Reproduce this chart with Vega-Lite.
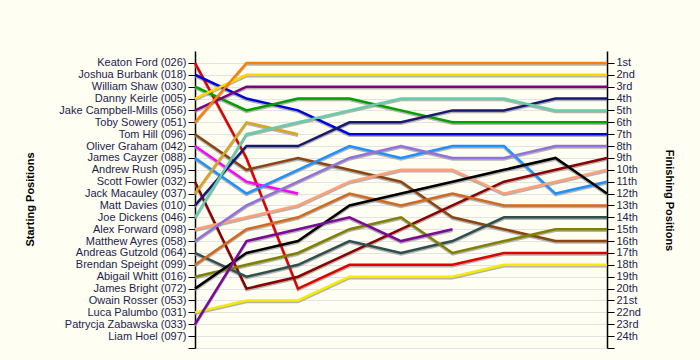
{
  "$schema": "https://vega.github.io/schema/vega-lite/v6.json",
  "width": 412,
  "height": 297,
  "autosize": {"type": "none"},
  "padding": {"left": 195, "top": 51, "right": 93, "bottom": 12},
  "background": "#FEFEF3",
  "config": {
    "view": {"stroke": null, "fill": "#FEFEF3"},
    "font": "Liberation Sans",
    "axis": {
      "labelFont": "Liberation Sans",
      "labelFontSize": 11,
      "labelColor": "#1C1C50",
      "titleFont": "Liberation Sans",
      "titleFontSize": 11,
      "titleFontWeight": "bold",
      "titleColor": "#000000",
      "domainColor": "#000000",
      "domainWidth": 1.5,
      "tickColor": "#000000",
      "gridColor": "#E3E3E3",
      "gridWidth": 1
    }
  },
  "datasets": {
    "laps": [
      {"d":"Keaton Ford (026)","l":0,"p":1},{"d":"Keaton Ford (026)","l":1,"p":9},{"d":"Keaton Ford (026)","l":2,"p":20},{"d":"Keaton Ford (026)","l":3,"p":18},{"d":"Keaton Ford (026)","l":4,"p":18},{"d":"Keaton Ford (026)","l":5,"p":18},{"d":"Keaton Ford (026)","l":6,"p":17},{"d":"Keaton Ford (026)","l":7,"p":17},{"d":"Keaton Ford (026)","l":8,"p":17},
      {"d":"Joshua Burbank (018)","l":0,"p":2},{"d":"Joshua Burbank (018)","l":1,"p":4},{"d":"Joshua Burbank (018)","l":2,"p":5},{"d":"Joshua Burbank (018)","l":3,"p":7},{"d":"Joshua Burbank (018)","l":4,"p":7},{"d":"Joshua Burbank (018)","l":5,"p":7},{"d":"Joshua Burbank (018)","l":6,"p":7},{"d":"Joshua Burbank (018)","l":7,"p":7},{"d":"Joshua Burbank (018)","l":8,"p":7},
      {"d":"William Shaw (030)","l":0,"p":3},{"d":"William Shaw (030)","l":1,"p":5},{"d":"William Shaw (030)","l":2,"p":4},{"d":"William Shaw (030)","l":3,"p":4},{"d":"William Shaw (030)","l":4,"p":5},{"d":"William Shaw (030)","l":5,"p":6},{"d":"William Shaw (030)","l":6,"p":6},{"d":"William Shaw (030)","l":7,"p":6},{"d":"William Shaw (030)","l":8,"p":6},
      {"d":"Danny Keirle (005)","l":0,"p":4},{"d":"Danny Keirle (005)","l":1,"p":2},{"d":"Danny Keirle (005)","l":2,"p":2},{"d":"Danny Keirle (005)","l":3,"p":2},{"d":"Danny Keirle (005)","l":4,"p":2},{"d":"Danny Keirle (005)","l":5,"p":2},{"d":"Danny Keirle (005)","l":6,"p":2},{"d":"Danny Keirle (005)","l":7,"p":2},{"d":"Danny Keirle (005)","l":8,"p":2},
      {"d":"Jake Campbell-Mills (056)","l":0,"p":5},{"d":"Jake Campbell-Mills (056)","l":1,"p":3},{"d":"Jake Campbell-Mills (056)","l":2,"p":3},{"d":"Jake Campbell-Mills (056)","l":3,"p":3},{"d":"Jake Campbell-Mills (056)","l":4,"p":3},{"d":"Jake Campbell-Mills (056)","l":5,"p":3},{"d":"Jake Campbell-Mills (056)","l":6,"p":3},{"d":"Jake Campbell-Mills (056)","l":7,"p":3},{"d":"Jake Campbell-Mills (056)","l":8,"p":3},
      {"d":"Toby Sowery (051)","l":0,"p":6},{"d":"Toby Sowery (051)","l":1,"p":1},{"d":"Toby Sowery (051)","l":2,"p":1},{"d":"Toby Sowery (051)","l":3,"p":1},{"d":"Toby Sowery (051)","l":4,"p":1},{"d":"Toby Sowery (051)","l":5,"p":1},{"d":"Toby Sowery (051)","l":6,"p":1},{"d":"Toby Sowery (051)","l":7,"p":1},{"d":"Toby Sowery (051)","l":8,"p":1},
      {"d":"Tom Hill (096)","l":0,"p":7},{"d":"Tom Hill (096)","l":1,"p":10},{"d":"Tom Hill (096)","l":2,"p":9},{"d":"Tom Hill (096)","l":3,"p":10},{"d":"Tom Hill (096)","l":4,"p":11},{"d":"Tom Hill (096)","l":5,"p":14},{"d":"Tom Hill (096)","l":6,"p":15},{"d":"Tom Hill (096)","l":7,"p":16},{"d":"Tom Hill (096)","l":8,"p":16},
      {"d":"Oliver Graham (042)","l":0,"p":8},{"d":"Oliver Graham (042)","l":1,"p":11},{"d":"Oliver Graham (042)","l":2,"p":12},
      {"d":"James Cayzer (088)","l":0,"p":9},{"d":"James Cayzer (088)","l":1,"p":12},{"d":"James Cayzer (088)","l":2,"p":10},{"d":"James Cayzer (088)","l":3,"p":8},{"d":"James Cayzer (088)","l":4,"p":9},{"d":"James Cayzer (088)","l":5,"p":8},{"d":"James Cayzer (088)","l":6,"p":8},{"d":"James Cayzer (088)","l":7,"p":12},{"d":"James Cayzer (088)","l":8,"p":11},
      {"d":"Scott Fowler (032)","l":0,"p":11},{"d":"Scott Fowler (032)","l":1,"p":20},{"d":"Scott Fowler (032)","l":2,"p":19},{"d":"Scott Fowler (032)","l":3,"p":17},{"d":"Scott Fowler (032)","l":4,"p":15},{"d":"Scott Fowler (032)","l":5,"p":13},{"d":"Scott Fowler (032)","l":6,"p":11},{"d":"Scott Fowler (032)","l":7,"p":10},{"d":"Scott Fowler (032)","l":8,"p":9},
      {"d":"Jack Macauley (037)","l":0,"p":12},{"d":"Jack Macauley (037)","l":1,"p":6},{"d":"Jack Macauley (037)","l":2,"p":7},
      {"d":"Matt Davies (010)","l":0,"p":13},{"d":"Matt Davies (010)","l":1,"p":8},{"d":"Matt Davies (010)","l":2,"p":8},{"d":"Matt Davies (010)","l":3,"p":6},{"d":"Matt Davies (010)","l":4,"p":6},{"d":"Matt Davies (010)","l":5,"p":5},{"d":"Matt Davies (010)","l":6,"p":5},{"d":"Matt Davies (010)","l":7,"p":4},{"d":"Matt Davies (010)","l":8,"p":4},
      {"d":"Joe Dickens (046)","l":0,"p":14},{"d":"Joe Dickens (046)","l":1,"p":7},{"d":"Joe Dickens (046)","l":2,"p":6},{"d":"Joe Dickens (046)","l":3,"p":5},{"d":"Joe Dickens (046)","l":4,"p":4},{"d":"Joe Dickens (046)","l":5,"p":4},{"d":"Joe Dickens (046)","l":6,"p":4},{"d":"Joe Dickens (046)","l":7,"p":5},{"d":"Joe Dickens (046)","l":8,"p":5},
      {"d":"Alex Forward (098)","l":0,"p":15},{"d":"Alex Forward (098)","l":1,"p":14},{"d":"Alex Forward (098)","l":2,"p":13},{"d":"Alex Forward (098)","l":3,"p":11},{"d":"Alex Forward (098)","l":4,"p":10},{"d":"Alex Forward (098)","l":5,"p":10},{"d":"Alex Forward (098)","l":6,"p":12},{"d":"Alex Forward (098)","l":7,"p":11},{"d":"Alex Forward (098)","l":8,"p":10},
      {"d":"Matthew Ayres (058)","l":0,"p":16},{"d":"Matthew Ayres (058)","l":1,"p":13},{"d":"Matthew Ayres (058)","l":2,"p":11},{"d":"Matthew Ayres (058)","l":3,"p":9},{"d":"Matthew Ayres (058)","l":4,"p":8},{"d":"Matthew Ayres (058)","l":5,"p":9},{"d":"Matthew Ayres (058)","l":6,"p":9},{"d":"Matthew Ayres (058)","l":7,"p":8},{"d":"Matthew Ayres (058)","l":8,"p":8},
      {"d":"Andreas Gutzold (064)","l":0,"p":17},{"d":"Andreas Gutzold (064)","l":1,"p":19},{"d":"Andreas Gutzold (064)","l":2,"p":18},{"d":"Andreas Gutzold (064)","l":3,"p":16},{"d":"Andreas Gutzold (064)","l":4,"p":17},{"d":"Andreas Gutzold (064)","l":5,"p":16},{"d":"Andreas Gutzold (064)","l":6,"p":14},{"d":"Andreas Gutzold (064)","l":7,"p":14},{"d":"Andreas Gutzold (064)","l":8,"p":14},
      {"d":"Brendan Speight (099)","l":0,"p":18},{"d":"Brendan Speight (099)","l":1,"p":15},{"d":"Brendan Speight (099)","l":2,"p":14},{"d":"Brendan Speight (099)","l":3,"p":12},{"d":"Brendan Speight (099)","l":4,"p":13},{"d":"Brendan Speight (099)","l":5,"p":12},{"d":"Brendan Speight (099)","l":6,"p":13},{"d":"Brendan Speight (099)","l":7,"p":13},{"d":"Brendan Speight (099)","l":8,"p":13},
      {"d":"Abigail Whitt (016)","l":0,"p":19},{"d":"Abigail Whitt (016)","l":1,"p":18},{"d":"Abigail Whitt (016)","l":2,"p":17},{"d":"Abigail Whitt (016)","l":3,"p":15},{"d":"Abigail Whitt (016)","l":4,"p":14},{"d":"Abigail Whitt (016)","l":5,"p":17},{"d":"Abigail Whitt (016)","l":6,"p":16},{"d":"Abigail Whitt (016)","l":7,"p":15},{"d":"Abigail Whitt (016)","l":8,"p":15},
      {"d":"James Bright (072)","l":0,"p":20},{"d":"James Bright (072)","l":1,"p":17},{"d":"James Bright (072)","l":2,"p":16},{"d":"James Bright (072)","l":3,"p":13},{"d":"James Bright (072)","l":4,"p":12},{"d":"James Bright (072)","l":5,"p":11},{"d":"James Bright (072)","l":6,"p":10},{"d":"James Bright (072)","l":7,"p":9},{"d":"James Bright (072)","l":8,"p":12},
      {"d":"Luca Palumbo (031)","l":0,"p":22},{"d":"Luca Palumbo (031)","l":1,"p":21},{"d":"Luca Palumbo (031)","l":2,"p":21},{"d":"Luca Palumbo (031)","l":3,"p":19},{"d":"Luca Palumbo (031)","l":4,"p":19},{"d":"Luca Palumbo (031)","l":5,"p":19},{"d":"Luca Palumbo (031)","l":6,"p":18},{"d":"Luca Palumbo (031)","l":7,"p":18},{"d":"Luca Palumbo (031)","l":8,"p":18},
      {"d":"Patrycja Zabawska (033)","l":0,"p":23},{"d":"Patrycja Zabawska (033)","l":1,"p":16},{"d":"Patrycja Zabawska (033)","l":2,"p":15},{"d":"Patrycja Zabawska (033)","l":3,"p":14},{"d":"Patrycja Zabawska (033)","l":4,"p":16},{"d":"Patrycja Zabawska (033)","l":5,"p":15}
    ]
  },
  "data": {"name": "laps"},
  "layer": [
    {
      "mark": {"type": "line", "color": "#9A9A9A", "strokeWidth": 2.5, "opacity": 0.75, "yOffset": 1.5},
      "encoding": {
        "x": {
          "field": "l", "type": "quantitative",
          "scale": {"domain": [0, 8], "nice": false, "zero": false},
          "axis": {
            "orient": "top", "values": [0,1,2,3,4,5,6,7,8],
            "labelExpr": "datum.value == 0 ? '' : datum.label",
            "tickSize": 5, "labelPadding": 2, "grid": true, "labelFontSize": 11,
            "title": "Laps", "titleX": 206, "titleY": -33, "titleBaseline": "middle"
          }
        },
        "y": {
          "field": "p", "type": "quantitative",
          "scale": {"domain": [0, 25], "reverse": true, "nice": false, "zero": false},
          "axis": {
            "orient": "left",
            "values": [1,2,3,4,5,6,7,8,9,10,11,12,13,14,15,16,17,18,19,20,21,22,23,24,25],
            "labelExpr": "['', 'Keaton Ford (026)', 'Joshua Burbank (018)', 'William Shaw (030)', 'Danny Keirle (005)', 'Jake Campbell-Mills (056)', 'Toby Sowery (051)', 'Tom Hill (096)', 'Oliver Graham (042)', 'James Cayzer (088)', 'Andrew Rush (095)', 'Scott Fowler (032)', 'Jack Macauley (037)', 'Matt Davies (010)', 'Joe Dickens (046)', 'Alex Forward (098)', 'Matthew Ayres (058)', 'Andreas Gutzold (064)', 'Brendan Speight (099)', 'Abigail Whitt (016)', 'James Bright (072)', 'Owain Rosser (053)', 'Luca Palumbo (031)', 'Patrycja Zabawska (033)', 'Liam Hoel (097)', ''][datum.value]",
            "tickSize": 7, "labelPadding": 2, "grid": true, "labelOverlap": false,
            "title": "Starting Positions", "titleX": -165, "titleY": 148,
            "titleAngle": -90, "titleBaseline": "middle", "titleAlign": "center"
          }
        },
        "detail": {"field": "d"}
      }
    },
    {
      "mark": {"type": "line", "strokeWidth": 2.5},
      "encoding": {
        "x": {"field": "l", "type": "quantitative", "axis": null},
        "y": {
          "field": "p", "type": "quantitative",
          "axis": {
            "orient": "right",
            "values": [1,2,3,4,5,6,7,8,9,10,11,12,13,14,15,16,17,18,19,20,21,22,23,24,25],
            "labelExpr": "datum.value > 24 ? '' : datum.value + ((datum.value % 10 == 1 && datum.value != 11) ? 'st' : (datum.value % 10 == 2 && datum.value != 12) ? 'nd' : (datum.value % 10 == 3 && datum.value != 13) ? 'rd' : 'th')",
            "tickSize": 7, "labelPadding": 2, "grid": false, "labelOverlap": false,
            "title": "Finishing Positions", "titleX": 61, "titleY": 149,
            "titleAngle": 90, "titleBaseline": "middle", "titleAlign": "center"
          }
        },
        "color": {
          "field": "d", "type": "nominal", "legend": null,
          "scale": {
            "domain": ["Keaton Ford (026)", "Joshua Burbank (018)", "William Shaw (030)", "Danny Keirle (005)", "Jake Campbell-Mills (056)", "Toby Sowery (051)", "Tom Hill (096)", "Oliver Graham (042)", "James Cayzer (088)", "Scott Fowler (032)", "Jack Macauley (037)", "Matt Davies (010)", "Joe Dickens (046)", "Alex Forward (098)", "Matthew Ayres (058)", "Andreas Gutzold (064)", "Brendan Speight (099)", "Abigail Whitt (016)", "James Bright (072)", "Luca Palumbo (031)", "Patrycja Zabawska (033)"],
            "range": ["#E00000", "#0000DD", "#009F00", "#FFD700", "#800080", "#FF7F00", "#8B4513", "#FF00FF", "#1E90FF", "#8B0000", "#DAA520", "#191970", "#66CDAA", "#FFA07A", "#9370DB", "#2F4F4F", "#D2691E", "#808000", "#000000", "#F5EB00", "#7A0A9A"]
          }
        },
        "detail": {"field": "d"}
      }
    }
  ],
  "resolve": {"axis": {"y": "independent"}}
}
